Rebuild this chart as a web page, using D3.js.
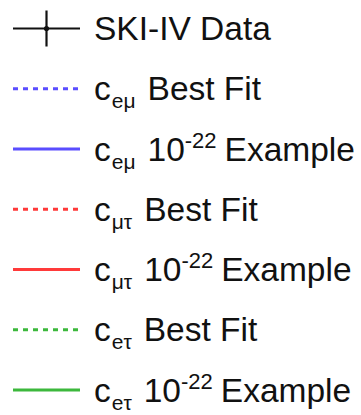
<!DOCTYPE html>
<html>
<head>
<meta charset="utf-8">
<script src="https://cdn.jsdelivr.net/npm/d3@7"></script>
<style>
  html, body { margin: 0; padding: 0; background: #fff; }
  svg { display: block; }
</style>
</head>
<body>
<svg id="legend" width="361" height="415"></svg>
<script>
// Legend entries: base symbol, subscript, whether "10^-22" is shown, trailing text
const entryKeys   = ["data", "emBest", "emEx", "mtBest", "mtEx", "etBest", "etEx"];
const entryBase   = ["SKI-IV Data", "c", "c", "c", "c", "c", "c"];
const entrySub    = ["", "eμ", "eμ", "μτ", "μτ", "eτ", "eτ"];
const entryPow    = [false, false, true, false, true, false, true];
const entryTail   = ["", "Best Fit", "Example", "Best Fit", "Example", "Best Fit", "Example"];
const entryColor  = ["#111111", "#5a4dff", "#5a4dff", "#ff3a3a", "#ff3a3a", "#3cb83c", "#3cb83c"];
const entryDashed = [false, true, false, true, false, true, false];
const entryMarker = [true, false, false, false, false, false, false];

const svg = d3.select("#legend");

const y = d3.scalePoint().domain(entryKeys).range([28.5, 390]);
const x0 = 13, x1 = 80, textX = 94;

const rows = svg.selectAll("g.entry")
  .data(entryKeys)
  .join("g")
  .attr("class", "entry")
  .attr("transform", d => `translate(0,${y(d)})`);

rows.append("line")
  .attr("x1", x0).attr("x2", x1)
  .attr("y1", 0).attr("y2", 0)
  .attr("stroke", (d, i) => entryColor[i])
  .attr("stroke-width", (d, i) => entryMarker[i] ? 2.2 : 3)
  .attr("stroke-dasharray", (d, i) => entryDashed[i] ? "5,5" : null);

// Error-bar cross with a dot for the data entry
rows.filter((d, i) => entryMarker[i]).each(function () {
  const g = d3.select(this);
  const cx = (x0 + x1) / 2;
  g.append("line")
    .attr("x1", cx).attr("x2", cx).attr("y1", -18).attr("y2", 18)
    .attr("stroke", "#111").attr("stroke-width", 2.2);
  g.append("circle").attr("cx", cx).attr("cy", 0).attr("r", 2.6).attr("fill", "#111");
});

const txt = rows.append("text")
  .attr("x", textX)
  .attr("y", 11.5)
  .attr("font-family", "'Liberation Sans', Arial, Helvetica, sans-serif")
  .attr("font-size", 33.5)
  .attr("fill", "#111");

txt.each(function (d, i) {
  const t = d3.select(this);
  t.append("tspan").text(entryBase[i]);
  if (entrySub[i]) {
    t.append("tspan").attr("font-size", 21).attr("dy", 8).attr("dx", 1).text(entrySub[i]);
  }
  if (entryPow[i]) {
    t.append("tspan").attr("dy", -8).attr("dx", 12).text("10");
    t.append("tspan").attr("font-size", 22).attr("dy", -13).text("-22");
    t.append("tspan").attr("dy", 13).attr("dx", 8).text(entryTail[i]);
  } else if (entrySub[i]) {
    t.append("tspan").attr("dy", -8).attr("dx", 12).text(entryTail[i]);
  }
});
</script>
</body>
</html>
